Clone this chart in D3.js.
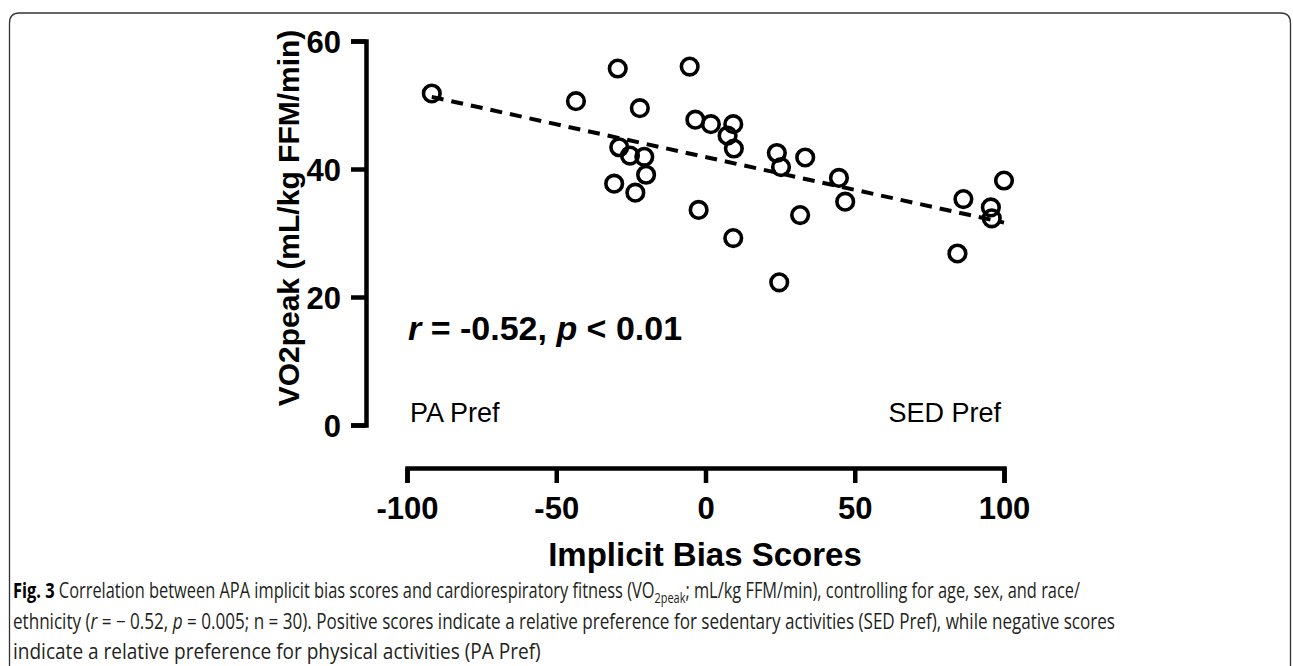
<!DOCTYPE html>
<html>
<head>
<meta charset="utf-8">
<script src="https://cdn.jsdelivr.net/npm/d3@7"></script>
<style>
  body { margin: 0; background: #fff; }
</style>
</head>
<body>
<div id="chart"></div>
<script>
var width = 1293;
var height = 666;

// implicit bias score (x) and VO2peak (y)
var biasScores = [-91.7, -29.4, -5.3, -43.4, -22.0, -3.4, 1.8, 9.3, 7.4, 9.5,
  -28.9, -25.3, -20.5, -19.9, -30.6, -23.5, -2.3, 9.3, 23.9, 25.3,
  33.4, 44.7, 46.8, 31.7, 24.7, 86.4, 100, 95.6, 95.9, 84.4];
var vo2peak = [51.8, 55.7, 56.0, 50.6, 49.5, 47.7, 47.0, 47.0, 45.2, 43.2,
  43.4, 42.1, 41.9, 39.1, 37.7, 36.3, 33.6, 29.2, 42.5, 40.3,
  41.8, 38.6, 34.9, 32.8, 22.3, 35.3, 38.2, 34.0, 32.3, 26.8];
var xTicks = [-100, -50, 0, 50, 100];
var yTicks = [0, 20, 40, 60];

var data = biasScores.map(function(d, i) { return { x: d, y: vo2peak[i] }; });

var svg = d3.select("#chart")
  .append("svg")
  .attr("width", width)
  .attr("height", height);

// rounded frame round the figure, open at the bottom
svg.append("path")
  .attr("d", "M9.5,690 L9.5,23 Q9.5,13 19.5,13 L1280.5,13 Q1290.5,13 1290.5,23 L1290.5,690")
  .attr("fill", "none")
  .attr("stroke", "#333")
  .attr("stroke-width", 1.3);

var x = d3.scaleLinear().domain([-100, 100]).range([407, 1004]);
var y = d3.scaleLinear().domain([0, 60]).range([425, 41]);

var boldFont = "'Liberation Sans', Arial, sans-serif";
var plain = function(d) { return String(d); }; // hyphen minus, as in the original

// x axis
var xAxis = svg.append("g")
  .attr("transform", "translate(0,468)")
  .call(d3.axisBottom(x).tickValues(xTicks).tickSize(15).tickFormat(plain));
xAxis.selectAll("path, line").attr("stroke", "#000").attr("stroke-width", 4.5);
xAxis.selectAll("text")
  .attr("y", 51).attr("dy", 0)
  .attr("fill", "#000")
  .style("font-family", boldFont).style("font-weight", "bold").style("font-size", "31px");

// y axis
var yAxis = svg.append("g")
  .attr("transform", "translate(366,0)")
  .call(d3.axisLeft(y).tickValues(yTicks).tickSize(15).tickFormat(plain));
yAxis.selectAll("path, line").attr("stroke", "#000").attr("stroke-width", 4.5);
yAxis.selectAll("text")
  .attr("x", -25).attr("dy", "0.36em")
  .attr("fill", "#000")
  .style("font-family", boldFont).style("font-weight", "bold").style("font-size", "31px");

// axis titles
svg.append("text")
  .attr("x", 705).attr("y", 566)
  .attr("text-anchor", "middle")
  .style("font-family", boldFont).style("font-weight", "bold").style("font-size", "33px")
  .text("Implicit Bias Scores");

svg.append("text")
  .attr("transform", "translate(299,218) rotate(-90)")
  .attr("text-anchor", "middle")
  .style("font-family", boldFont).style("font-weight", "bold").style("font-size", "30px")
  .text("VO2peak (mL/kg FFM/min)");

// least squares fit, drawn dashed across the data range
var mx = d3.mean(data, function(d) { return d.x; });
var my = d3.mean(data, function(d) { return d.y; });
var slope = d3.sum(data, function(d) { return (d.x - mx) * (d.y - my); }) /
  d3.sum(data, function(d) { return (d.x - mx) * (d.x - mx); });
var intercept = my - slope * mx;
var xExt = d3.extent(data, function(d) { return d.x; });

svg.append("line")
  .attr("x1", x(xExt[0])).attr("y1", y(intercept + slope * xExt[0]))
  .attr("x2", x(xExt[1])).attr("y2", y(intercept + slope * xExt[1]))
  .attr("stroke", "#000")
  .attr("stroke-width", 4)
  .attr("stroke-dasharray", "12,8");

// points
svg.append("g")
  .selectAll("circle")
  .data(data)
  .enter()
  .append("circle")
  .attr("cx", function(d) { return x(d.x); })
  .attr("cy", function(d) { return y(d.y); })
  .attr("r", 8.3)
  .attr("fill", "none")
  .attr("stroke", "#000")
  .attr("stroke-width", 3.6);

// stats label
var stat = svg.append("text")
  .attr("x", 408).attr("y", 340)
  .style("font-family", boldFont).style("font-weight", "bold").style("font-size", "34px");
stat.append("tspan").style("font-style", "italic").text("r");
stat.append("tspan").text(" = -0.52, ");
stat.append("tspan").style("font-style", "italic").text("p");
stat.append("tspan").text(" < 0.01");

svg.append("text")
  .attr("x", 410).attr("y", 422)
  .style("font-family", boldFont).style("font-size", "27px")
  .text("PA Pref");

svg.append("text")
  .attr("x", 1001).attr("y", 422)
  .attr("text-anchor", "end")
  .style("font-family", boldFont).style("font-size", "27px")
  .text("SED Pref");

// caption, each line squeezed to the width it has in the original condensed type
var capFont = "'Open Sans', 'Noto Sans', sans-serif";
var capColor = "#231f20";
var capBaselines = [598, 629, 659];
var capRights = [1081, 1116, 541];
var capLeft = 13;

function captionLine(i) {
  var g = svg.append("g").attr("transform", "translate(" + capLeft + "," + capBaselines[i] + ")");
  var t = g.append("text")
    .attr("fill", capColor)
    .style("font-family", capFont).style("font-size", "21px");
  return { g: g, t: t };
}

var l1 = captionLine(0);
l1.t.append("tspan").style("font-weight", "bold").attr("fill", "#000").text("Fig. 3");
l1.t.append("tspan").text(" Correlation between APA implicit bias scores and cardiorespiratory fitness (VO");
l1.t.append("tspan").attr("dy", 5).style("font-size", "14px").text("2peak");
l1.t.append("tspan").attr("dy", -5).text("; mL/kg FFM/min), controlling for age, sex, and race/");

var l2 = captionLine(1);
l2.t.append("tspan").text("ethnicity (");
l2.t.append("tspan").style("font-style", "italic").text("r");
l2.t.append("tspan").text(" = \u2212 0.52, ");
l2.t.append("tspan").style("font-style", "italic").text("p");
l2.t.append("tspan").text(" = 0.005; n = 30). Positive scores indicate a relative preference for sedentary activities (SED Pref), while negative scores");

var l3 = captionLine(2);
l3.t.append("tspan").text("indicate a relative preference for physical activities (PA Pref)");

[l1, l2, l3].forEach(function(l, i) {
  var k = (capRights[i] - capLeft) / l.t.node().getBBox().width;
  l.g.attr("transform", "translate(" + capLeft + "," + capBaselines[i] + ") scale(" + k + ",1)");
});
</script>
</body>
</html>
